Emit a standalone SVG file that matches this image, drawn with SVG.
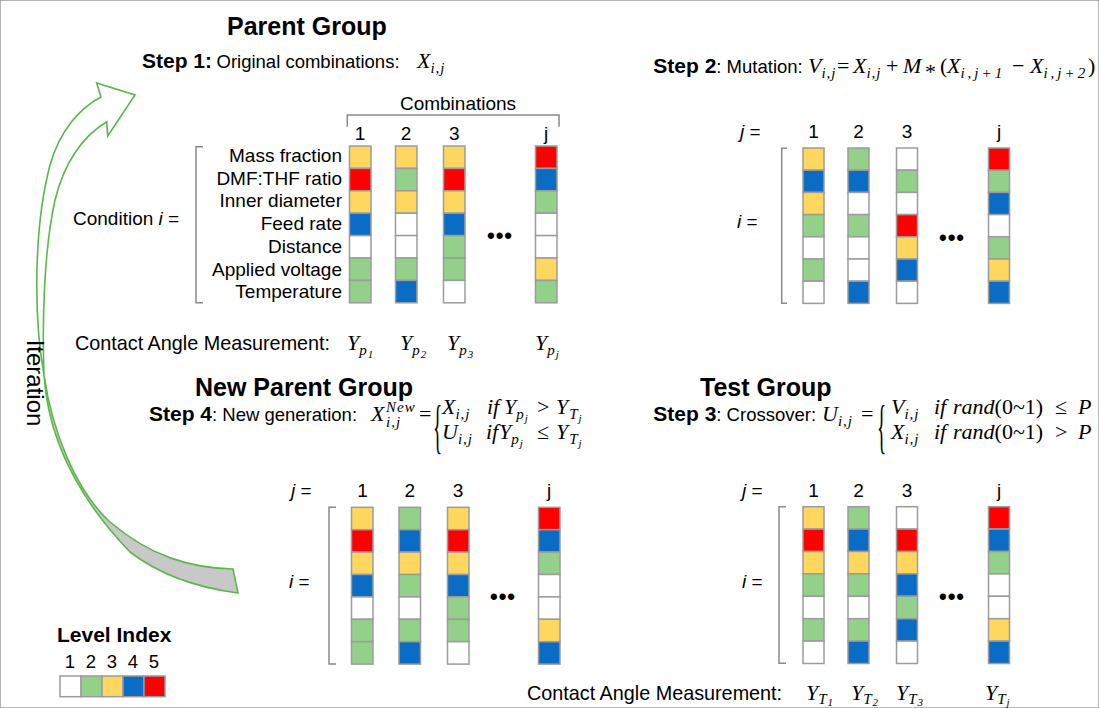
<svg xmlns="http://www.w3.org/2000/svg" width="1099" height="708" viewBox="0 0 1099 708">
<style>
text{font-family:"Liberation Sans",Arial,sans-serif;fill:#000}
.h{font-size:25px;font-weight:bold}
.s{font-size:21px;font-weight:bold}
.r{font-size:18.5px}
.l{font-size:19px}
.m{font-family:"Liberation Serif","Times New Roman",serif;font-style:italic;font-size:22px}
.mr{font-family:"Liberation Serif","Times New Roman",serif;font-size:22px}
.sb{font-size:15px;letter-spacing:1px}
.sl{font-size:15px;letter-spacing:3px}
.ss{font-size:11px}
.br-big{font-family:"Liberation Serif","Times New Roman",serif;font-size:60px}
.dots{font-size:22px;letter-spacing:1px;font-weight:bold}
.br{fill:none;stroke:#8a8a8a;stroke-width:1.5}
rect{stroke:#9c9c9c;stroke-width:1.5}
.c1{fill:#ffffff}.c2{fill:#93d08a}.c3{fill:#ffd75e}.c4{fill:#0a6cc4}.c5{fill:#ff0000}
.arw{stroke:#5bb84a;stroke-width:1.6;stroke-linejoin:miter}
</style>
<rect x="0" y="0" width="1099" height="708" fill="#fff" stroke="none"/>

<g id="connectors">
  <path class="arw" fill="#c8c8c8" d="M44,375 C48,440 80,500 130,552 C160,575 200,588 238,593 L233,569 C190,568 150,556 110,522 C75,490 52,430 44,375 Z"/>
  <path class="arw" fill="#ffffff" d="M44,375 C34,320 33,230 50,165 C60,130 80,108 101,97 L96.7,83 L135,95 L107.7,136 L106.7,121.7 C85,135 65,160 55,200 C44,250 42,320 44,375 Z"/>
  <text style="font-size:24px" text-anchor="middle" transform="translate(27,383) rotate(90)">Iteration</text>
</g>

<!-- Parent group -->
<g id="parent-group">
  <text class="h" x="227" y="35">Parent Group</text>
  <text x="142" y="68"><tspan class="s">Step 1:</tspan><tspan class="r" x="216.5">Original combinations:</tspan></text>
  <text class="m" x="417" y="68">X<tspan class="sb" dy="5">i,j</tspan></text>
  <path class="br" d="M347.3,126.7 V115 H559 V126.7"/>
  <text class="l" x="458" y="110" text-anchor="middle">Combinations</text>
  <g class="l" text-anchor="middle">
    <text x="360" y="140">1</text><text x="406" y="140">2</text><text x="454.3" y="140">3</text><text x="546" y="140">j</text>
  </g>
  <text class="l" x="73" y="225">Condition <tspan font-style="italic">i</tspan> =</text>
  <path class="br" d="M203,146.7 H196 V302.7 H203"/>
  <g class="l" text-anchor="end">
    <text x="342" y="162">Mass fraction</text>
    <text x="342" y="184.7">DMF:THF ratio</text>
    <text x="342" y="207.4">Inner diameter</text>
    <text x="342" y="230.1">Feed rate</text>
    <text x="342" y="252.8">Distance</text>
    <text x="342" y="275.5">Applied voltage</text>
    <text x="342" y="298.2">Temperature</text>
  </g>
  <g id="pA1" transform="translate(349.5,146)">
    <rect class="c3" y="0" width="21.5" height="22.4"/><rect class="c5" y="22.4" width="21.5" height="22.4"/><rect class="c3" y="44.8" width="21.5" height="22.4"/><rect class="c4" y="67.2" width="21.5" height="22.4"/><rect class="c1" y="89.6" width="21.5" height="22.4"/><rect class="c2" y="112" width="21.5" height="22.4"/><rect class="c2" y="134.4" width="21.5" height="22.4"/>
  </g>
  <g id="pA2" transform="translate(395.5,146)">
    <rect class="c3" y="0" width="21.5" height="22.4"/><rect class="c2" y="22.4" width="21.5" height="22.4"/><rect class="c3" y="44.8" width="21.5" height="22.4"/><rect class="c1" y="67.2" width="21.5" height="22.4"/><rect class="c1" y="89.6" width="21.5" height="22.4"/><rect class="c2" y="112" width="21.5" height="22.4"/><rect class="c4" y="134.4" width="21.5" height="22.4"/>
  </g>
  <g id="pA3" transform="translate(443.5,146)">
    <rect class="c3" y="0" width="21.5" height="22.4"/><rect class="c5" y="22.4" width="21.5" height="22.4"/><rect class="c3" y="44.8" width="21.5" height="22.4"/><rect class="c4" y="67.2" width="21.5" height="22.4"/><rect class="c2" y="89.6" width="21.5" height="22.4"/><rect class="c2" y="112" width="21.5" height="22.4"/><rect class="c1" y="134.4" width="21.5" height="22.4"/>
  </g>
  <g id="pAj" transform="translate(535.5,146)">
    <rect class="c5" y="0" width="21.5" height="22.4"/><rect class="c4" y="22.4" width="21.5" height="22.4"/><rect class="c2" y="44.8" width="21.5" height="22.4"/><rect class="c1" y="67.2" width="21.5" height="22.4"/><rect class="c1" y="89.6" width="21.5" height="22.4"/><rect class="c3" y="112" width="21.5" height="22.4"/><rect class="c2" y="134.4" width="21.5" height="22.4"/>
  </g>
  <text class="dots" x="500" y="243" text-anchor="middle">•••</text>
  <text x="75" y="350" style="font-size:19.8px">Contact Angle Measurement:</text>
  <text class="m" x="347" y="350">Y<tspan class="sb" dy="5">p</tspan><tspan class="ss" dy="3">1</tspan></text>
  <text class="m" x="400" y="350">Y<tspan class="sb" dy="5">p</tspan><tspan class="ss" dy="3">2</tspan></text>
  <text class="m" x="447" y="350">Y<tspan class="sb" dy="5">p</tspan><tspan class="ss" dy="3">3</tspan></text>
  <text class="m" x="535" y="350">Y<tspan class="sb" dy="5">p</tspan><tspan class="ss" dy="3">j</tspan></text>
</g>

<!-- Mutation -->
<g id="mutation">
  <text x="653.3" y="73"><tspan class="s">Step 2</tspan><tspan class="r">: Mutation:</tspan></text>
  <text class="m" x="808" y="73">V<tspan class="sb" dy="5">i,j</tspan></text>
  <text class="mr" x="837" y="73">=</text>
  <text class="m" x="853" y="73">X<tspan class="sb" dy="5">i,j</tspan></text>
  <text class="mr" x="886" y="73">+</text>
  <text class="m" x="903" y="73">M</text>
  <text class="mr" x="925" y="79">*</text>
  <text class="mr" x="940" y="73">(</text>
  <text class="m" x="947" y="73">X<tspan class="sl" dy="5">i,j+1</tspan></text>
  <text class="mr" x="1012" y="73">−</text>
  <text class="m" x="1030" y="73">X<tspan class="sl" dy="5">i,j+2</tspan></text>
  <text class="mr" x="1088" y="73">)</text>
  <text class="l" x="740" y="138"><tspan font-style="italic">j</tspan> =</text>
  <text class="l" x="737" y="228"><tspan font-style="italic">i</tspan> =</text>
  <g class="l" text-anchor="middle">
    <text x="813.5" y="138">1</text><text x="858.5" y="138">2</text><text x="907" y="138">3</text><text x="999" y="138">j</text>
  </g>
  <path class="br" d="M787,148.3 H781.7 V303.3 H787"/>
  <g id="pB1" transform="translate(803,148)">
    <rect class="c3" y="0" width="21" height="22.2"/><rect class="c4" y="22.2" width="21" height="22.2"/><rect class="c3" y="44.4" width="21" height="22.2"/><rect class="c2" y="66.6" width="21" height="22.2"/><rect class="c1" y="88.8" width="21" height="22.2"/><rect class="c2" y="111" width="21" height="22.2"/><rect class="c1" y="133.2" width="21" height="22.2"/>
  </g>
  <g id="pB2" transform="translate(848,148)">
    <rect class="c2" y="0" width="21" height="22.2"/><rect class="c4" y="22.2" width="21" height="22.2"/><rect class="c1" y="44.4" width="21" height="22.2"/><rect class="c2" y="66.6" width="21" height="22.2"/><rect class="c1" y="88.8" width="21" height="22.2"/><rect class="c1" y="111" width="21" height="22.2"/><rect class="c4" y="133.2" width="21" height="22.2"/>
  </g>
  <g id="pB3" transform="translate(896.5,148)">
    <rect class="c1" y="0" width="21" height="22.2"/><rect class="c2" y="22.2" width="21" height="22.2"/><rect class="c1" y="44.4" width="21" height="22.2"/><rect class="c5" y="66.6" width="21" height="22.2"/><rect class="c3" y="88.8" width="21" height="22.2"/><rect class="c4" y="111" width="21" height="22.2"/><rect class="c1" y="133.2" width="21" height="22.2"/>
  </g>
  <g id="pBj" transform="translate(988.5,148)">
    <rect class="c5" y="0" width="21" height="22.2"/><rect class="c2" y="22.2" width="21" height="22.2"/><rect class="c4" y="44.4" width="21" height="22.2"/><rect class="c1" y="66.6" width="21" height="22.2"/><rect class="c2" y="88.8" width="21" height="22.2"/><rect class="c3" y="111" width="21" height="22.2"/><rect class="c4" y="133.2" width="21" height="22.2"/>
  </g>
  <text class="dots" x="952" y="245" text-anchor="middle">•••</text>
</g>

<!-- New parent group -->
<g id="new-parent-group">
  <text class="h" x="195" y="396">New Parent Group</text>
  <text x="149" y="421"><tspan class="s">Step 4</tspan><tspan class="r">: New generation:</tspan></text>
  <text class="m" x="371" y="421">X<tspan class="sb" x="386" dy="-9">New</tspan><tspan class="sb" x="386" dy="15">i,j</tspan></text>
  <text class="mr" x="419" y="421">=</text>
  <text class="br-big" transform="translate(433,446) scale(0.32,1)">{</text>
  <text class="m" x="442" y="414">X<tspan class="sb" dy="5">i,j</tspan></text>
  <text class="m" x="487" y="414">if</text>
  <text class="m" x="504" y="414">Y<tspan class="sb" dy="5">p</tspan><tspan class="ss" dy="3">j</tspan></text>
  <text class="mr" x="537" y="414">&gt;</text>
  <text class="m" x="556" y="414">Y<tspan class="sb" dy="5" dx="1">T</tspan><tspan class="ss" dy="3">j</tspan></text>
  <text class="m" x="442" y="439">U<tspan class="sb" dy="5">i,j</tspan></text>
  <text class="m" x="486" y="439">if</text>
  <text class="m" x="499" y="439">Y<tspan class="sb" dy="5">p</tspan><tspan class="ss" dy="3">j</tspan></text>
  <text class="mr" x="537" y="439">≤</text>
  <text class="m" x="556" y="439">Y<tspan class="sb" dy="5" dx="1">T</tspan><tspan class="ss" dy="3">j</tspan></text>
  <text class="l" x="291" y="497"><tspan font-style="italic">j</tspan> =</text>
  <text class="l" x="289" y="588"><tspan font-style="italic">i</tspan> =</text>
  <g class="l" text-anchor="middle">
    <text x="362.5" y="497">1</text><text x="409.7" y="497">2</text><text x="458" y="497">3</text><text x="549" y="497">j</text>
  </g>
  <path class="br" d="M336,507.3 H329 V664 H336"/>
  <g id="pC1" transform="translate(351.5,507.3)">
    <rect class="c3" y="0" width="21.5" height="22.4"/><rect class="c5" y="22.4" width="21.5" height="22.4"/><rect class="c3" y="44.8" width="21.5" height="22.4"/><rect class="c4" y="67.2" width="21.5" height="22.4"/><rect class="c1" y="89.6" width="21.5" height="22.4"/><rect class="c2" y="112" width="21.5" height="22.4"/><rect class="c2" y="134.4" width="21.5" height="22.4"/>
  </g>
  <g id="pC2" transform="translate(399,507.3)">
    <rect class="c2" y="0" width="21.5" height="22.4"/><rect class="c4" y="22.4" width="21.5" height="22.4"/><rect class="c3" y="44.8" width="21.5" height="22.4"/><rect class="c2" y="67.2" width="21.5" height="22.4"/><rect class="c1" y="89.6" width="21.5" height="22.4"/><rect class="c2" y="112" width="21.5" height="22.4"/><rect class="c4" y="134.4" width="21.5" height="22.4"/>
  </g>
  <g id="pC3" transform="translate(447.5,507.3)">
    <rect class="c3" y="0" width="21.5" height="22.4"/><rect class="c5" y="22.4" width="21.5" height="22.4"/><rect class="c3" y="44.8" width="21.5" height="22.4"/><rect class="c4" y="67.2" width="21.5" height="22.4"/><rect class="c2" y="89.6" width="21.5" height="22.4"/><rect class="c2" y="112" width="21.5" height="22.4"/><rect class="c1" y="134.4" width="21.5" height="22.4"/>
  </g>
  <g id="pCj" transform="translate(538.5,507.3)">
    <rect class="c5" y="0" width="21.5" height="22.4"/><rect class="c4" y="22.4" width="21.5" height="22.4"/><rect class="c2" y="44.8" width="21.5" height="22.4"/><rect class="c1" y="67.2" width="21.5" height="22.4"/><rect class="c1" y="89.6" width="21.5" height="22.4"/><rect class="c3" y="112" width="21.5" height="22.4"/><rect class="c4" y="134.4" width="21.5" height="22.4"/>
  </g>
  <text class="dots" x="503" y="604" text-anchor="middle">•••</text>
</g>

<!-- Test group -->
<g id="test-group">
  <text class="h" x="700" y="396">Test Group</text>
  <text x="653.3" y="421"><tspan class="s">Step 3</tspan><tspan class="r">: Crossover:</tspan></text>
  <text class="m" x="822" y="421">U<tspan class="sb" dy="5">i,j</tspan></text>
  <text class="mr" x="861" y="421">=</text>
  <text class="br-big" transform="translate(877,446) scale(0.32,1)">{</text>
  <text class="m" x="891" y="414">V<tspan class="sb" dy="5">i,j</tspan></text>
  <text class="m" x="934" y="414">if</text>
  <text class="m" x="953" y="414">rand<tspan font-style="normal">(0~1)</tspan></text>
  <text class="mr" x="1055" y="414">≤</text>
  <text class="m" x="1078" y="414">P</text>
  <text class="m" x="891" y="439">X<tspan class="sb" dy="5">i,j</tspan></text>
  <text class="m" x="934" y="439">if</text>
  <text class="m" x="953" y="439">rand<tspan font-style="normal">(0~1)</tspan></text>
  <text class="mr" x="1055" y="439">&gt;</text>
  <text class="m" x="1078" y="439">P</text>
  <text class="l" x="742" y="497"><tspan font-style="italic">j</tspan> =</text>
  <text class="l" x="742" y="588"><tspan font-style="italic">i</tspan> =</text>
  <g class="l" text-anchor="middle">
    <text x="813.5" y="497">1</text><text x="858.5" y="497">2</text><text x="907" y="497">3</text><text x="999" y="497">j</text>
  </g>
  <path class="br" d="M786,506.7 H779 V663.3 H786"/>
  <g id="pD1" transform="translate(803,506.7)">
    <rect class="c3" y="0" width="21" height="22.4"/><rect class="c5" y="22.4" width="21" height="22.4"/><rect class="c3" y="44.8" width="21" height="22.4"/><rect class="c2" y="67.2" width="21" height="22.4"/><rect class="c1" y="89.6" width="21" height="22.4"/><rect class="c2" y="112" width="21" height="22.4"/><rect class="c1" y="134.4" width="21" height="22.4"/>
  </g>
  <g id="pD2" transform="translate(848,506.7)">
    <rect class="c2" y="0" width="21" height="22.4"/><rect class="c4" y="22.4" width="21" height="22.4"/><rect class="c3" y="44.8" width="21" height="22.4"/><rect class="c2" y="67.2" width="21" height="22.4"/><rect class="c1" y="89.6" width="21" height="22.4"/><rect class="c2" y="112" width="21" height="22.4"/><rect class="c4" y="134.4" width="21" height="22.4"/>
  </g>
  <g id="pD3" transform="translate(896.5,506.7)">
    <rect class="c1" y="0" width="21" height="22.4"/><rect class="c5" y="22.4" width="21" height="22.4"/><rect class="c3" y="44.8" width="21" height="22.4"/><rect class="c4" y="67.2" width="21" height="22.4"/><rect class="c2" y="89.6" width="21" height="22.4"/><rect class="c4" y="112" width="21" height="22.4"/><rect class="c1" y="134.4" width="21" height="22.4"/>
  </g>
  <g id="pDj" transform="translate(988.5,506.7)">
    <rect class="c5" y="0" width="21" height="22.4"/><rect class="c4" y="22.4" width="21" height="22.4"/><rect class="c2" y="44.8" width="21" height="22.4"/><rect class="c1" y="67.2" width="21" height="22.4"/><rect class="c1" y="89.6" width="21" height="22.4"/><rect class="c3" y="112" width="21" height="22.4"/><rect class="c4" y="134.4" width="21" height="22.4"/>
  </g>
  <text class="dots" x="952" y="604" text-anchor="middle">•••</text>
  <text x="527" y="700" style="font-size:19.8px">Contact Angle Measurement:</text>
  <text class="m" x="806" y="700">Y<tspan class="sb" dy="4">T</tspan><tspan class="ss" dy="2">1</tspan></text>
  <text class="m" x="851" y="700">Y<tspan class="sb" dy="4">T</tspan><tspan class="ss" dy="2">2</tspan></text>
  <text class="m" x="896" y="700">Y<tspan class="sb" dy="4">T</tspan><tspan class="ss" dy="2">3</tspan></text>
  <text class="m" x="985" y="700">Y<tspan class="sb" dy="4">T</tspan><tspan class="ss" dy="2">j</tspan></text>
</g>

<!-- Level index legend -->
<g id="level-index">
  <text x="57" y="642" style="font-size:21px;font-weight:bold">Level Index</text>
  <g class="r" text-anchor="middle">
    <text x="70" y="668">1</text><text x="91" y="668">2</text><text x="112" y="668">3</text><text x="133" y="668">4</text><text x="154" y="668">5</text>
  </g>
  <rect class="c1" x="60" y="676" width="21" height="20.7"/>
  <rect class="c2" x="81" y="676" width="21" height="20.7"/>
  <rect class="c3" x="102" y="676" width="21" height="20.7"/>
  <rect class="c4" x="123" y="676" width="21" height="20.7"/>
  <rect class="c5" x="144" y="676" width="21" height="20.7"/>
</g>
</svg>
